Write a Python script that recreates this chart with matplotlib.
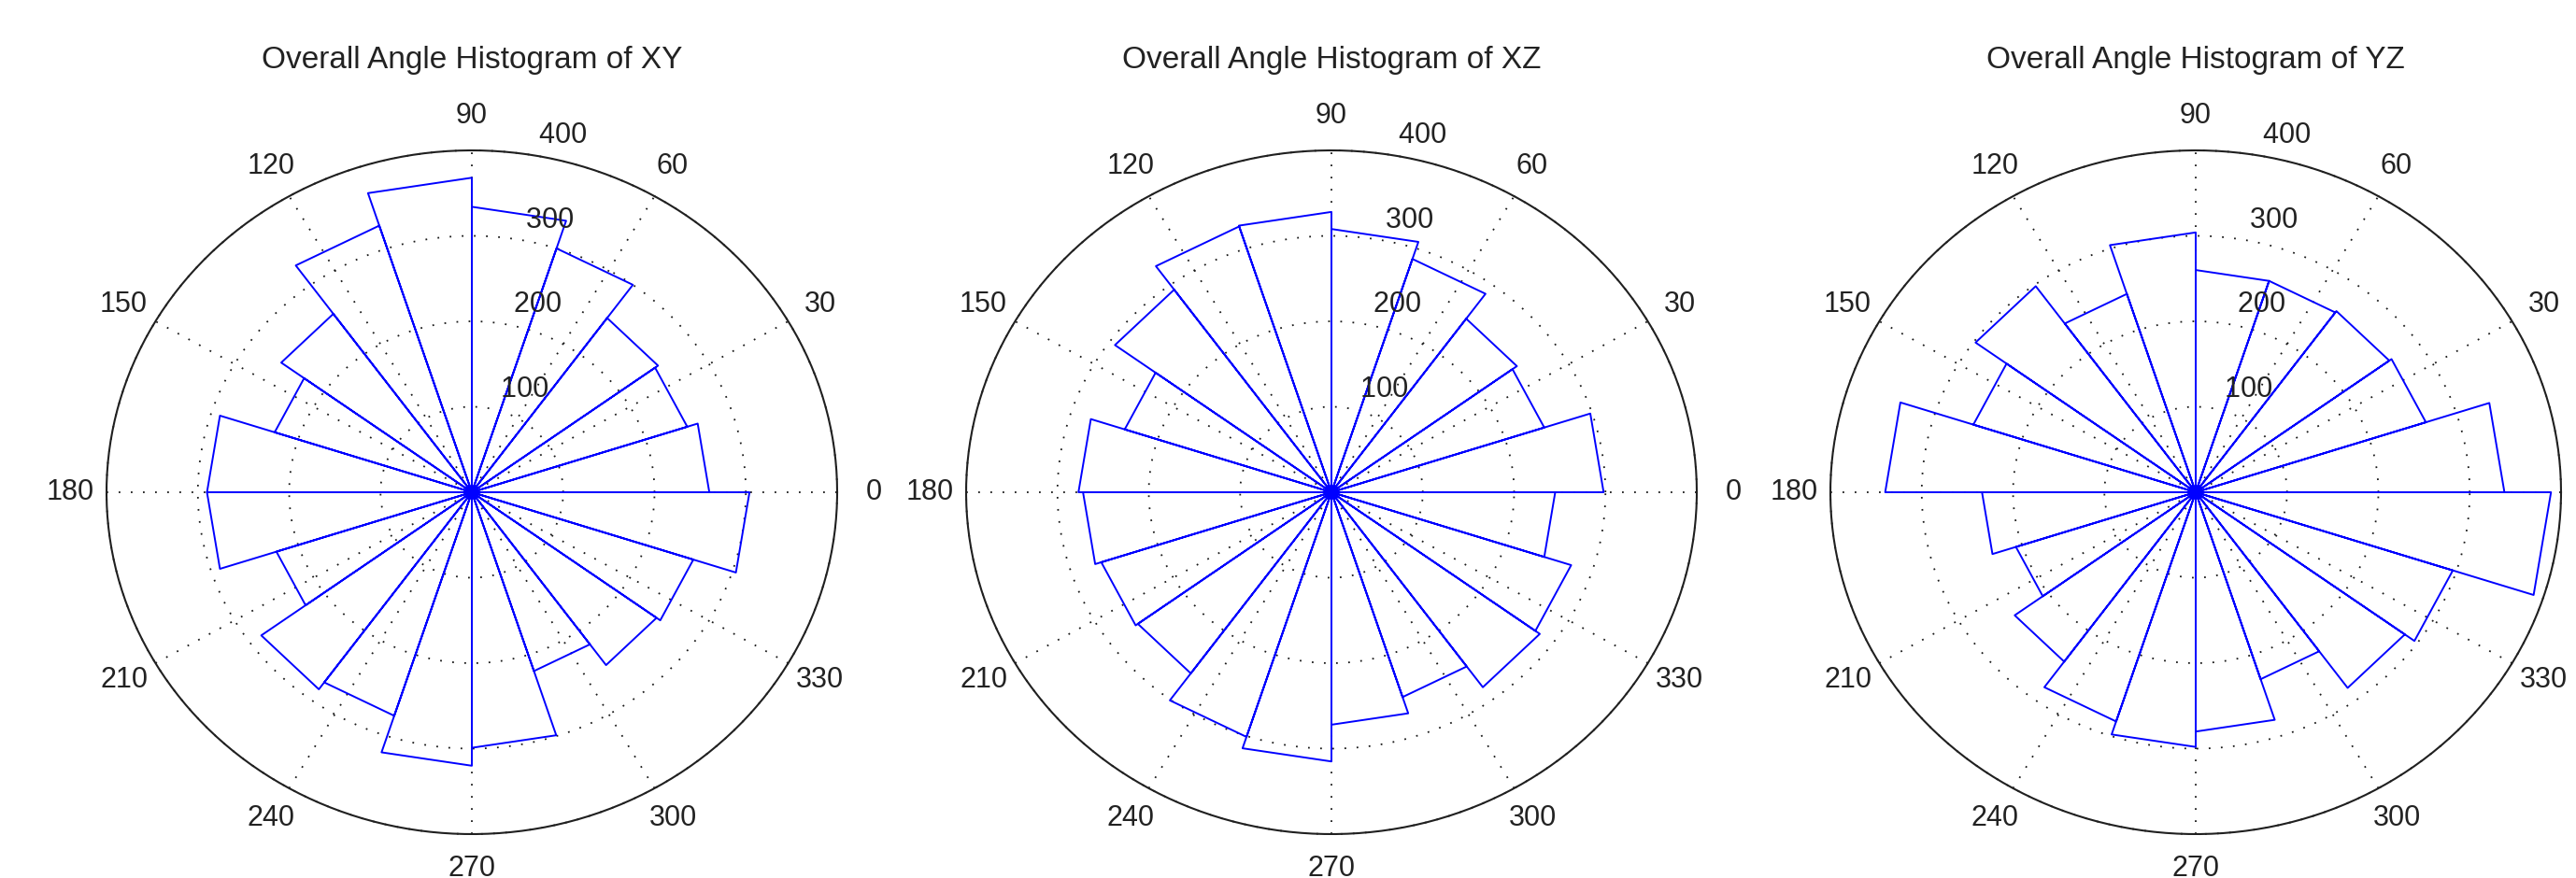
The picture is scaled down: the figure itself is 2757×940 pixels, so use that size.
import numpy as np
import matplotlib
matplotlib.use("Agg")
from matplotlib import pyplot as plt

plt.rcParams["font.family"] = ["Liberation Sans", "DejaVu Sans"]

# rose histogram counts, 20 bins of 18 degrees starting at 0
bin_width_deg = 18
xy_counts = [260, 248, 252, 300, 334, 368, 328, 258, 227, 290,
             290, 225, 285, 275, 320, 299, 220, 250, 255, 304]
xz_counts = [298, 245, 251, 287, 308, 328, 327, 293, 238, 277,
             272, 265, 262, 301, 315, 272, 252, 282, 276, 245]
yz_counts = [338, 265, 262, 260, 260, 304, 244, 298, 256, 340,
             234, 207, 245, 282, 298, 280, 230, 283, 296, 389]
titles = ["Overall Angle Histogram of XY",
          "Overall Angle Histogram of XZ",
          "Overall Angle Histogram of YZ"]
ring_values = [100, 200, 300, 400]
spoke_angles = [0, 30, 60, 90, 120, 150]
angle_labels = ["0", "30", "60", "90", "120", "150",
                "180", "210", "240", "270", "300", "330"]

W, H = 2757, 940
fig = plt.figure(figsize=(W / 100, H / 100), dpi=100)

centers_x = [505, 1425, 2350]
center_y = 527
rx_px, ry_px = 391, 366
rmax = ring_values[-1]

dot_style = (0, (1.0, 6.2))
grid_color = "#1a1a1a"
t = np.linspace(0, 2 * np.pi, 400)


def rose_path(counts):
    xs, ys = [], []
    for i, c in enumerate(counts):
        a1 = np.deg2rad(i * bin_width_deg)
        a2 = np.deg2rad((i + 1) * bin_width_deg)
        xs += [0, c * np.cos(a1), c * np.cos(a2), 0]
        ys += [0, c * np.sin(a1), c * np.sin(a2), 0]
    return xs, ys


for cx, counts, title in zip(centers_x, [xy_counts, xz_counts, yz_counts], titles):
    ax = fig.add_axes([(cx - rx_px) / W, (H - center_y - ry_px) / H,
                       2 * rx_px / W, 2 * ry_px / H])
    ax.set_xlim(-rmax, rmax)
    ax.set_ylim(-rmax, rmax)
    ax.axis("off")

    # dotted rings and spokes
    for r in ring_values:
        ax.plot(r * np.cos(t), r * np.sin(t), color=grid_color, lw=1.3,
                linestyle=dot_style, clip_on=False)
    for a in spoke_angles:
        ar = np.deg2rad(a)
        ax.plot([-rmax * np.cos(ar), rmax * np.cos(ar)],
                [-rmax * np.sin(ar), rmax * np.sin(ar)],
                color=grid_color, lw=1.3, linestyle=dot_style, clip_on=False)
    ax.plot(rmax * np.cos(t), rmax * np.sin(t), color="#202020", lw=1.5,
            clip_on=False)

    # angle labels (the ones falling outside the figure are not drawn)
    for k, lab in enumerate(angle_labels):
        ar = np.deg2rad(30 * k)
        lx, ly = 1.1 * rmax * np.cos(ar), 1.1 * rmax * np.sin(ar)
        px = cx + lx / rmax * rx_px
        if px + 10 > W:
            continue
        ax.text(lx, ly, lab, ha="center", va="center", fontsize=22,
                color="#222222")

    # radial labels
    c82, s82 = np.cos(np.deg2rad(82)), np.sin(np.deg2rad(82))
    for r in ring_values:
        ax.text((r + 5) * c82, (r + 5) * s82, "  %d" % r, ha="left",
                va="bottom", fontsize=22, color="#222222")

    xs, ys = rose_path(counts)
    ax.plot(xs, ys, color="#0000ff", lw=1.4, clip_on=False)

    ax.text(0, 506, title, ha="center", va="center", fontsize=24,
            color="#222222")

fig.savefig("out.png", dpi=100)
